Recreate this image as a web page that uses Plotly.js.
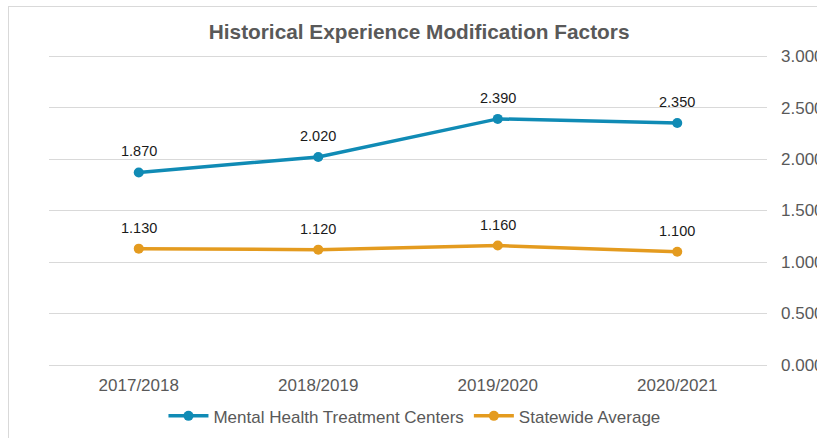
<!DOCTYPE html>
<html>
<head>
<meta charset="utf-8">
<script src="https://cdn.plot.ly/plotly-3.0.1.min.js"></script>
<style>
  body { margin: 0; overflow: hidden; background: #fff; }
  #frame { position: absolute; left: 8px; top: 6px; width: 1000px; height: 1000px; border: 1px solid #d9d9d9; }
  #chart { position: absolute; left: 0; top: 0; width: 817px; height: 438px; }
</style>
</head>
<body>
<div id="frame"></div>
<div id="chart"></div>
<script>
// Historical experience modification factors
const years = ['2017/2018', '2018/2019', '2019/2020', '2020/2021'];
const mentalHealth = [1.870, 2.020, 2.390, 2.350];
const statewide = [1.130, 1.120, 1.160, 1.100];
const yTicks = [0, 0.5, 1, 1.5, 2, 2.5, 3];

const blue = '#108bb5';
const orange = '#e49b1f';
const grey = '#595959';
const font = 'Arial, "Liberation Sans", sans-serif';

function series(name, values, color) {
    return {
        x: years,
        y: values,
        name: name,
        type: 'scatter',
        mode: 'lines+markers',
        line: { color: color, width: 3.5 },
        marker: { color: color, size: 10 },
        hoverinfo: 'skip'
    };
}

function labels(values) {
    return values.map((v, i) => ({
        x: years[i],
        y: v,
        text: v.toFixed(3),
        showarrow: false,
        yshift: 21,
        yanchor: 'middle',
        font: { family: font, size: 14.5, color: '#1a1a1a' }
    }));
}

const traces = [
    series('Mental Health Treatment Centers', mentalHealth, blue),
    series('Statewide Average', statewide, orange)
];

const layout = {
    width: 817,
    height: 438,
    margin: { l: 49, r: 50, t: 54, b: 73, autoexpand: false },
    paper_bgcolor: 'rgba(0,0,0,0)',
    plot_bgcolor: 'rgba(0,0,0,0)',
    font: { family: font, color: grey },
    title: {
        text: '<b>Historical Experience Modification Factors</b>',
        font: { family: font, size: 20.8, color: grey },
        x: 0.513,
        xanchor: 'center',
        y: 0.927,
        yanchor: 'middle'
    },
    xaxis: {
        type: 'category',
        range: [-0.5, 3.5],
        showgrid: false,
        showline: false,
        zeroline: false,
        ticks: '',
        ticklabelstandoff: 8,
        tickfont: { family: font, size: 17, color: grey },
        fixedrange: true
    },
    yaxis: {
        side: 'right',
        range: [0, 3.02],
        tickvals: yTicks,
        ticktext: yTicks.map(v => v.toFixed(3)),
        showgrid: true,
        gridcolor: '#d9d9d9',
        gridwidth: 1,
        zeroline: true,
        zerolinecolor: '#d9d9d9',
        zerolinewidth: 1,
        showline: false,
        ticks: '',
        ticklabelstandoff: 13,
        tickfont: { family: font, size: 17, color: grey },
        fixedrange: true
    },
    showlegend: true,
    legend: {
        orientation: 'h',
        x: 0.509,
        xanchor: 'center',
        y: -0.165,
        yanchor: 'middle',
        font: { family: font, size: 17, color: grey },
        itemwidth: 40,
        itemgap: 46,
        traceorder: 'normal'
    },
    annotations: labels(mentalHealth).concat(labels(statewide))
};

Plotly.newPlot('chart', traces, layout, { displayModeBar: false, staticPlot: true });
</script>
</body>
</html>
